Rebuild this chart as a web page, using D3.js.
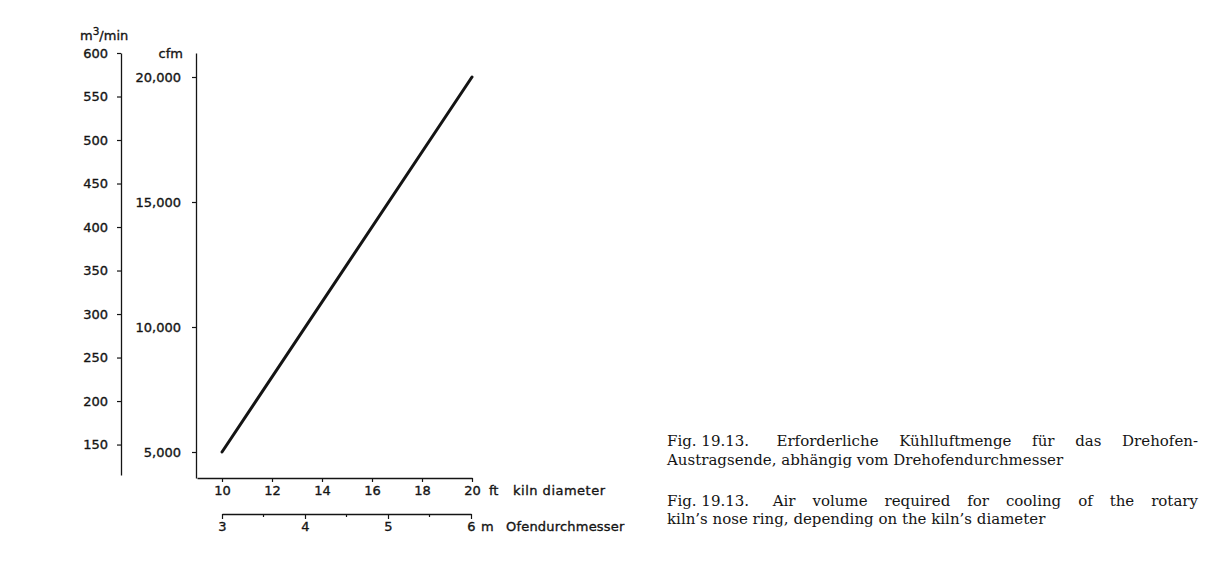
<!DOCTYPE html>
<html><head><meta charset="utf-8">
<script src="https://cdn.jsdelivr.net/npm/d3@7"></script>
<style>
html,body{margin:0;padding:0;background:#fff;}
svg{display:block;}
</style></head>
<body>
<svg id="chart" width="1223" height="563"></svg>
<script>
// ---- data ----
const kilnDiameterFt = [10, 20];
const airVolumeCfm = [5000, 20000];
const ticksM3min = [150, 200, 250, 300, 350, 400, 450, 500, 550, 600];
const ticksCfm = [5000, 10000, 15000, 20000];
const ticksFt = [10, 12, 14, 16, 18, 20];
const ticksM = [3, 4, 5, 6];
const minorTicksM = [3.5, 4.5, 5.5];
const captionDe = ["Fig. 19.13.", "Erforderliche Kühlluftmenge für das Drehofen-", "Austragsende, abhängig vom Drehofendurchmesser"];
const captionEn = ["Fig. 19.13.", "Air volume required for cooling of the rotary", "kiln’s nose ring, depending on the kiln’s diameter"];

const svg = d3.select("#chart");
svg.append("rect").attr("width",1223).attr("height",563).attr("fill","#fff");
const ink = "#141414";
const sans = "'DejaVu Sans', sans-serif";
const serif = "'DejaVu Serif', serif";
const FS = 13;

function heavy(sel){ return sel.attr("stroke", ink).attr("stroke-width", 0.35).attr("paint-order","stroke"); }
function label(x, y, txt, anchor, ls){
  const t = svg.append("text").attr("x",x).attr("y",y).attr("font-family",sans).attr("font-size",FS)
    .attr("fill",ink).attr("text-anchor",anchor||"start").text(txt);
  if (ls) t.attr("letter-spacing", ls);
  heavy(t);
  return t;
}

// ---- scales ----
const yM = d3.scaleLinear().domain([115, 600]).range([475, 53]);
const yC = d3.scaleLinear().domain([3960, 20960]).range([478, 53]);
const xFt = d3.scaleLinear().domain([9, 20]).range([197, 472]);
const xM = d3.scaleLinear().domain([3, 6]).range([222, 471]);

function style(g){
  g.attr("font-family", sans).attr("font-size", FS).attr("fill", ink);
  g.selectAll("path.domain").attr("stroke", ink).attr("stroke-width", 1.3);
  g.selectAll(".tick line").attr("stroke", ink).attr("stroke-width", 1.2);
  heavy(g.selectAll(".tick text").attr("fill", ink));
}

// left axis m3/min
const gM = svg.append("g").attr("transform","translate(121,0)")
  .call(d3.axisLeft(yM).tickValues(ticksM3min).tickSize(4).tickSizeOuter(0).tickPadding(9));
style(gM);
const t1 = svg.append("text").attr("x",80).attr("y",40).attr("font-family",sans).attr("font-size",FS).attr("fill",ink);
t1.append("tspan").text("m");
t1.append("tspan").attr("font-size",10.5).attr("dy",-5).text("3");
t1.append("tspan").attr("dy",5).text("/min");
heavy(t1);

// cfm axis
const gC = svg.append("g").attr("transform","translate(196,0)")
  .call(d3.axisLeft(yC).tickValues(ticksCfm).tickFormat(d3.format(",")).tickSize(4).tickSizeOuter(0).tickPadding(11));
style(gC);
label(183, 58, "cfm", "end");

// ft axis
const gF = svg.append("g").attr("transform","translate(0,478)")
  .call(d3.axisBottom(xFt).tickValues(ticksFt).tickSize(4).tickSizeOuter(0).tickPadding(4));
style(gF);
label(489, 495, "ft");
label(513, 495, "kiln diameter", "start", 0.5);

// m axis
const gMe = svg.append("g").attr("transform","translate(0,514)")
  .call(d3.axisBottom(xM).tickValues(ticksM).tickFormat(d3.format("d")).tickSize(5).tickSizeOuter(0).tickPadding(3));
style(gMe);
gMe.selectAll("line.minor").data(minorTicksM).join("line").attr("class","minor")
  .attr("x1",d=>xM(d)).attr("x2",d=>xM(d)).attr("y1",0).attr("y2",3)
  .attr("stroke",ink).attr("stroke-width",1.2);
label(481, 531, "m");
label(506, 531, "Ofendurchmesser", "start", 0.2);

// data line
const pts = kilnDiameterFt.map((d,i)=>[d, airVolumeCfm[i]]);
svg.append("path").datum(pts)
  .attr("d", d3.line().x(d=>xFt(d[0])).y(d=>yC(d[1])))
  .attr("fill","none").attr("stroke",ink).attr("stroke-width",3).attr("stroke-linecap","round");

// ---- captions ----
const capX0 = 667, capX1 = 1198;
const fs = 15;
function measure(txt){
  const p = svg.append("text").attr("font-family",serif).attr("font-size",fs).text(txt);
  const w = p.node().getComputedTextLength(); p.remove(); return w;
}

function justified(lab, rest, y){
  const g = svg.append("g").attr("font-family",serif).attr("font-size",fs).attr("fill",ink);
  const tokens = [lab].concat(rest.split(" "));
  const widths = tokens.map(measure);
  const extra = fs*0.45;
  const gap = (capX1 - capX0 - d3.sum(widths) - extra)/(tokens.length-1);
  let x = capX0;
  tokens.forEach((t,i)=>{
    g.append("text").attr("x",x).attr("y",y).text(t);
    x += widths[i] + gap + (i===0?extra:0);
  });
}
function plain(txt, y){
  svg.append("text").attr("x",capX0).attr("y",y).attr("font-family",serif)
    .attr("font-size",fs).attr("fill",ink).text(txt);
}
justified(captionDe[0], captionDe[1], 446);
plain(captionDe[2], 464.5);
justified(captionEn[0], captionEn[1], 506);
plain(captionEn[2], 524);
</script>
</body></html>
